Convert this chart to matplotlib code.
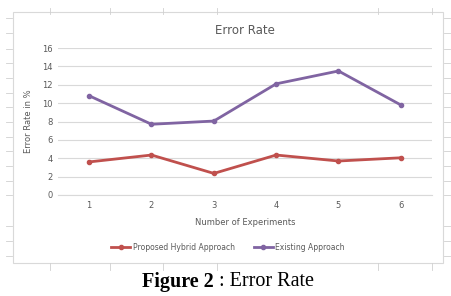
import matplotlib
matplotlib.use("Agg")
import matplotlib.pyplot as plt
from matplotlib.patches import Rectangle
from matplotlib.lines import Line2D

experiments = [1, 2, 3, 4, 5, 6]
hybrid = [3.6, 4.35, 2.35, 4.35, 3.7, 4.05]
existing = [10.8, 7.7, 8.05, 12.1, 13.5, 9.8]
yticks = [0, 2, 4, 6, 8, 10, 12, 14, 16]

W, H = 451, 296
fig = plt.figure(figsize=(W / 100, H / 100), dpi=100)

# chart frame
fig.patches.append(Rectangle((13 / W, 1 - 263 / H), 430 / W, 251 / H,
                             transform=fig.transFigure, fill=False,
                             edgecolor="#d9d9d9", linewidth=0.8))
# scan artifact tick marks around the frame
for x in [50, 110, 163, 217, 378, 432]:
    fig.add_artist(Line2D([x / W, x / W], [1 - 8 / H, 1 - 14 / H], color="#d0d0d0", lw=0.6))
    fig.add_artist(Line2D([x / W, x / W], [1 - 263 / H, 1 - 270 / H], color="#d0d0d0", lw=0.6))
for y in [18, 33, 49, 63, 78, 93, 107, 122, 137, 151, 166, 181, 195, 226, 241, 256]:
    fig.add_artist(Line2D([6 / W, 12 / W], [1 - y / H, 1 - y / H], color="#d0d0d0", lw=0.6))
    fig.add_artist(Line2D([444 / W, 450 / W], [1 - y / H, 1 - y / H], color="#d0d0d0", lw=0.6))

ax = fig.add_axes([58 / W, 1 - 195 / H, 374 / W, 147 / H])
ax.plot(experiments, hybrid, color="#C0504D", lw=2, marker="o", ms=3,
        label="Proposed Hybrid Approach")
ax.plot(experiments, existing, color="#8064A2", lw=2, marker="o", ms=3,
        label="Existing Approach")
ax.set_xlim(0.5, 6.5)
ax.set_ylim(0, 16)
ax.set_yticks(yticks)
ax.set_xticks(experiments)
ax.grid(axis="y", color="#d9d9d9", lw=0.8)
ax.set_axisbelow(True)
for s in ["top", "right", "left"]:
    ax.spines[s].set_visible(False)
ax.spines["bottom"].set_color("#d9d9d9")
ax.tick_params(length=0, labelsize=6, colors="#595959", pad=4)
ax.set_xlabel("Number of Experiments", fontsize=6, color="#595959", labelpad=6)
ax.set_ylabel("Error Rate in %", fontsize=6, color="#595959", labelpad=6)
ax.set_title("Error Rate", fontsize=8.5, color="#595959", pad=10)

ax.legend(loc="center", bbox_to_anchor=(228 / W, 1 - 247 / H), bbox_transform=fig.transFigure,
          ncol=2, fontsize=5.5, frameon=False, labelcolor="#595959",
          handlelength=2.5, handletextpad=0.3, columnspacing=2.5)

fig.text(214 / W, 1 - 282 / H, "Figure 2", fontsize=14.5, family="Liberation Serif",
         fontweight="bold", ha="right", va="center")
fig.text(214 / W, 1 - 282 / H, " : Error Rate", fontsize=14.5, family="Liberation Serif",
         ha="left", va="center")

fig.savefig("out.png", dpi=100)
